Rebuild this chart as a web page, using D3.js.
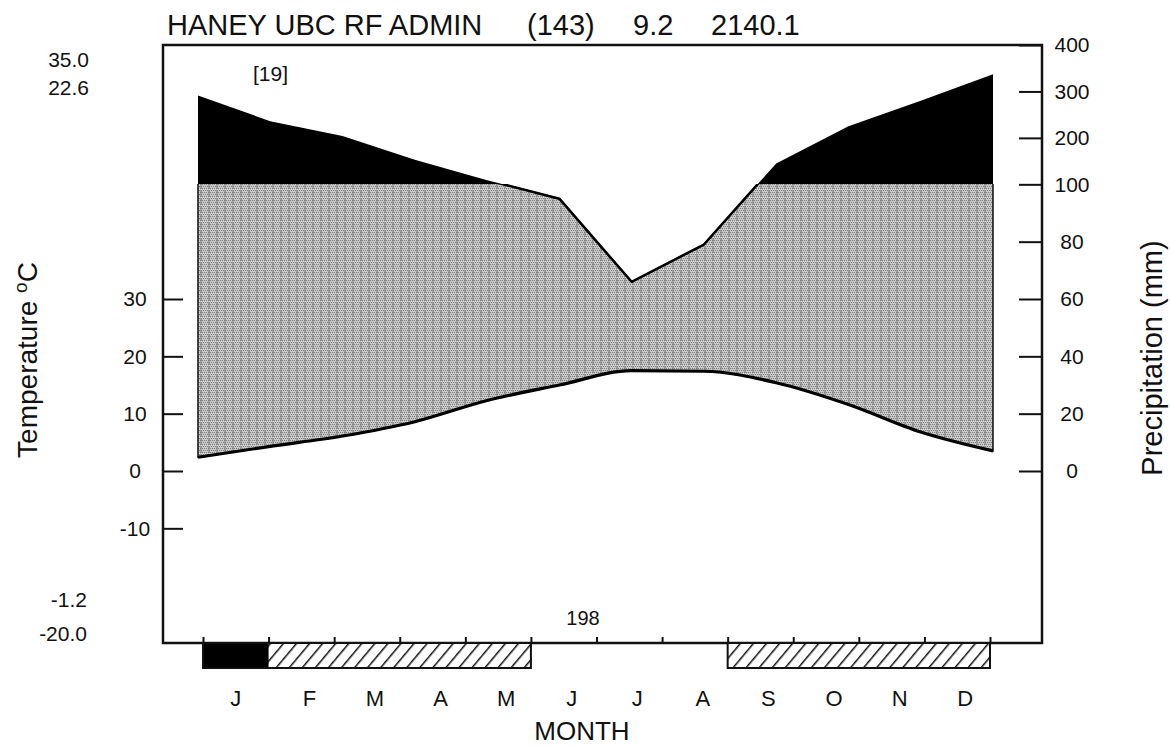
<!DOCTYPE html>
<html>
<head>
<meta charset="utf-8">
<script src="https://cdn.jsdelivr.net/npm/d3@7"></script>
<style>
  body { margin: 0; background: #fff; }
  svg text { font-family: "Liberation Sans", Arial, Helvetica, sans-serif; fill: #111; }
</style>
</head>
<body>
<div id="chart"></div>
<script>

// station header
const station = "HANEY UBC RF ADMIN";
const elevation = "(143)";
const meanTemp = "9.2";
const annualPrecip = "2140.1";
const yearsObs = "[19]";
const frostFreeDays = "198";

// extremes printed in the left margin
const absMax = "35.0";
const meanMaxWarm = "22.6";
const meanMinCold = "-1.2";
const absMin = "-20.0";

// monthly climate values
const months = ["J", "F", "M", "A", "M", "J", "J", "A", "S", "O", "N", "D"];
const temperature = [2.4, 4.3, 6.1, 8.6, 12.3, 15.0, 17.5, 17.4, 15.4, 11.6, 6.8, 3.5];
const precipitation = [291, 236, 204, 153, 109, 95, 66, 79, 145, 225, 280, 337];
// 2 = mean daily minimum below 0, 1 = absolute minimum below 0, 0 = frost free
const frost = [2, 1, 1, 1, 1, 0, 0, 0, 1, 1, 1, 1];

// axis ticks
const tempTicks = [-10, 0, 10, 20, 30];
const precTicks = [0, 20, 40, 60, 80, 100, 200, 300, 400];

// frame of the diagram
const W = 1170, H = 748;
const frame = {left: 163, right: 1042, top: 45, bottom: 643};

const svg = d3.select("#chart").append("svg")
    .attr("width", W)
    .attr("height", H);

// scales: 10 C on the left matches 20 mm on the right, compressed above 100 mm
const yTemp = d3.scaleLinear().domain([-30, 0]).range([frame.bottom, 471]);
const yPrec = d3.scaleLinear()
    .domain([0, 100, 400])
    .range([yTemp(0), yTemp(50), frame.top]);
const xData = d3.scaleLinear().domain([0, 11]).range([198, 993]);
const xMonth = d3.scaleLinear().domain([0, 12]).range([203, 990]);

// patterns
const defs = svg.append("defs");

const stip = defs.append("pattern")
    .attr("id", "stipple")
    .attr("patternUnits", "userSpaceOnUse")
    .attr("width", 8).attr("height", 8);
stip.append("rect").attr("width", 8).attr("height", 8).attr("fill", "#c8c8c8");
stip.append("rect").attr("x", 0).attr("width", 2).attr("height", 8).attr("fill", "#a0a0a0");
for (let y = 0; y < 8; y += 2) {
    for (let x = (y % 4 === 0 ? 0 : 1); x < 8; x += 2) {
        stip.append("rect").attr("x", x).attr("y", y).attr("width", 1).attr("height", 1).attr("fill", "#7c7c7c");
    }
}
for (let x = 0; x < 8; x++) {
    stip.append("rect").attr("x", x).attr("y", 5).attr("width", 1).attr("height", 1)
        .attr("fill", x % 2 ? "#e0e0e0" : "#b4b4b4");
}

const hatch = defs.append("pattern")
    .attr("id", "hatch")
    .attr("patternUnits", "userSpaceOnUse")
    .attr("width", 10).attr("height", 10)
    .attr("patternTransform", "rotate(40)");
hatch.append("rect").attr("width", 10).attr("height", 10).attr("fill", "#fff");
hatch.append("line")
    .attr("x1", 0).attr("y1", 0).attr("x2", 0).attr("y2", 10)
    .attr("stroke", "#111").attr("stroke-width", 3);

// clips above and below the 100 mm level (snapped to a pixel row)
const y100 = Math.round(yPrec(100));
defs.append("clipPath").attr("id", "below100")
    .append("rect")
    .attr("x", 0).attr("y", y100)
    .attr("width", W).attr("height", H);
defs.append("clipPath").attr("id", "above100")
    .append("rect")
    .attr("x", 0).attr("y", 0)
    .attr("width", W).attr("height", y100);

// line generators
const tempLine = d3.line()
    .x((d, i) => xData(i))
    .y(d => yTemp(d))
    .curve(d3.curveMonotoneX);
const precLine = d3.line()
    .x((d, i) => xData(i))
    .y(d => yPrec(d));

// humid area between temperature and precipitation (reverse the precip path)
const precRev = precipitation.map((d, i) => [xData(i), yPrec(d)]).reverse();
const humidPath = tempLine(temperature) + "L" + precRev.map(p => p.join(",")).join("L") + "Z";

svg.append("path")
    .attr("d", humidPath)
    .attr("fill", "url(#stipple)")
    .attr("stroke", "#111")
    .attr("stroke-width", 1.5)
    .attr("clip-path", "url(#below100)");

// very humid part above 100 mm in black
const wetArea = d3.area()
    .x((d, i) => xData(i))
    .y0(y100)
    .y1(d => yPrec(d));
svg.append("path")
    .attr("d", wetArea(precipitation))
    .attr("fill", "#000")
    .attr("clip-path", "url(#above100)");

// curves
svg.append("path")
    .attr("d", precLine(precipitation))
    .attr("fill", "none")
    .attr("stroke", "#000")
    .attr("stroke-width", 2.5)
    .attr("stroke-linejoin", "round")
    .attr("clip-path", "url(#below100)");

svg.append("path")
    .attr("d", tempLine(temperature))
    .attr("fill", "none")
    .attr("stroke", "#000")
    .attr("stroke-width", 3.2);

// axes
const leftAxis = d3.axisLeft(yTemp)
    .tickValues(tempTicks)
    .tickSizeInner(-20)
    .tickSizeOuter(0)
    .tickPadding(28)
    .tickFormat(d => String(d));
const gl = svg.append("g")
    .attr("transform", `translate(${frame.left},0)`)
    .call(leftAxis);

const rightAxis = d3.axisRight(yPrec)
    .tickValues(precTicks)
    .tickSizeInner(-23)
    .tickSizeOuter(0)
    .tickPadding(30)
    .tickFormat(d => String(d));
const gr = svg.append("g")
    .attr("transform", `translate(${frame.right},0)`)
    .call(rightAxis);

const bottomAxis = d3.axisBottom(xMonth)
    .tickValues(d3.range(13))
    .tickSizeInner(-6)
    .tickSizeOuter(0)
    .tickFormat("");
const gb = svg.append("g")
    .attr("transform", `translate(0,${frame.bottom})`)
    .call(bottomAxis);

[gl, gr, gb].forEach(g => {
    g.select(".domain").remove();
    g.selectAll(".tick line").attr("stroke", "#111").attr("stroke-width", 2);
    g.selectAll(".tick text")
        .attr("text-anchor", "middle")
        .style("font-size", "21px")
        .style("font-family", "'Liberation Sans', Arial, sans-serif")
        .attr("fill", "#111");
});

// frame
svg.append("rect")
    .attr("x", frame.left).attr("y", frame.top)
    .attr("width", frame.right - frame.left)
    .attr("height", frame.bottom - frame.top)
    .attr("fill", "none")
    .attr("stroke", "#111")
    .attr("stroke-width", 2.5);

// frost bars under the frame
const barY = frame.bottom, barH = 25;
svg.selectAll(".frost")
    .data(frost.map((f, i) => ({f, i})).filter(d => d.f > 0))
    .enter().append("rect")
    .attr("class", "frost")
    .attr("x", d => xMonth(d.i))
    .attr("y", barY)
    .attr("width", xMonth(1) - xMonth(0) + 0.5)
    .attr("height", barH)
    .attr("fill", d => d.f === 2 ? "#000" : "url(#hatch)");

// outline each run of frost months
let runs = [];
frost.forEach((f, i) => {
    if (f > 0 && (i === 0 || frost[i - 1] === 0)) runs.push([i, i + 1]);
    else if (f > 0) runs[runs.length - 1][1] = i + 1;
});
svg.selectAll(".run")
    .data(runs)
    .enter().append("rect")
    .attr("class", "run")
    .attr("x", d => xMonth(d[0]))
    .attr("y", barY)
    .attr("width", d => xMonth(d[1]) - xMonth(d[0]))
    .attr("height", barH)
    .attr("fill", "none")
    .attr("stroke", "#111")
    .attr("stroke-width", 2);

// month letters
svg.selectAll(".month")
    .data(months)
    .enter().append("text")
    .attr("class", "month")
    .attr("x", (d, i) => xMonth(i + 0.5) + (i === 0 ? 0 : 8))
    .attr("y", 706)
    .attr("text-anchor", "middle")
    .style("font-size", "22px")
    .text(d => d);

// header
const header = svg.append("g").style("font-size", "29px");
header.append("text").attr("x", 167).attr("y", 35).text(station);
header.append("text").attr("x", 527).attr("y", 35).text(elevation);
header.append("text").attr("x", 633).attr("y", 35).text(meanTemp);
header.append("text").attr("x", 711).attr("y", 35).text(annualPrecip);

// extremes in the margin
const marg = svg.append("g").style("font-size", "21px").attr("text-anchor", "end");
marg.append("text").attr("x", 89).attr("y", 67).text(absMax);
marg.append("text").attr("x", 89).attr("y", 95).text(meanMaxWarm);
marg.append("text").attr("x", 87).attr("y", 607).text(meanMinCold);
marg.append("text").attr("x", 87).attr("y", 641).text(absMin);

svg.append("text").attr("x", 253).attr("y", 81).style("font-size", "21px").text(yearsObs);
svg.append("text").attr("x", 583).attr("y", 625).attr("text-anchor", "middle")
    .style("font-size", "20px").text(frostFreeDays);

// axis titles
svg.append("text")
    .attr("x", 582).attr("y", 740)
    .attr("text-anchor", "middle")
    .style("font-size", "26px")
    .text("MONTH");

const tt = svg.append("text")
    .attr("transform", "translate(37,360) rotate(-90)")
    .attr("text-anchor", "middle")
    .style("font-size", "28px");
tt.append("tspan").text("Temperature  ");
tt.append("tspan").attr("dy", -10).style("font-size", "19px").text("o");
tt.append("tspan").attr("dy", 10).text("C");

svg.append("text")
    .attr("transform", "translate(1162,358) rotate(-90)")
    .attr("text-anchor", "middle")
    .style("font-size", "29px")
    .text("Precipitation (mm)");

</script>
</body>
</html>
